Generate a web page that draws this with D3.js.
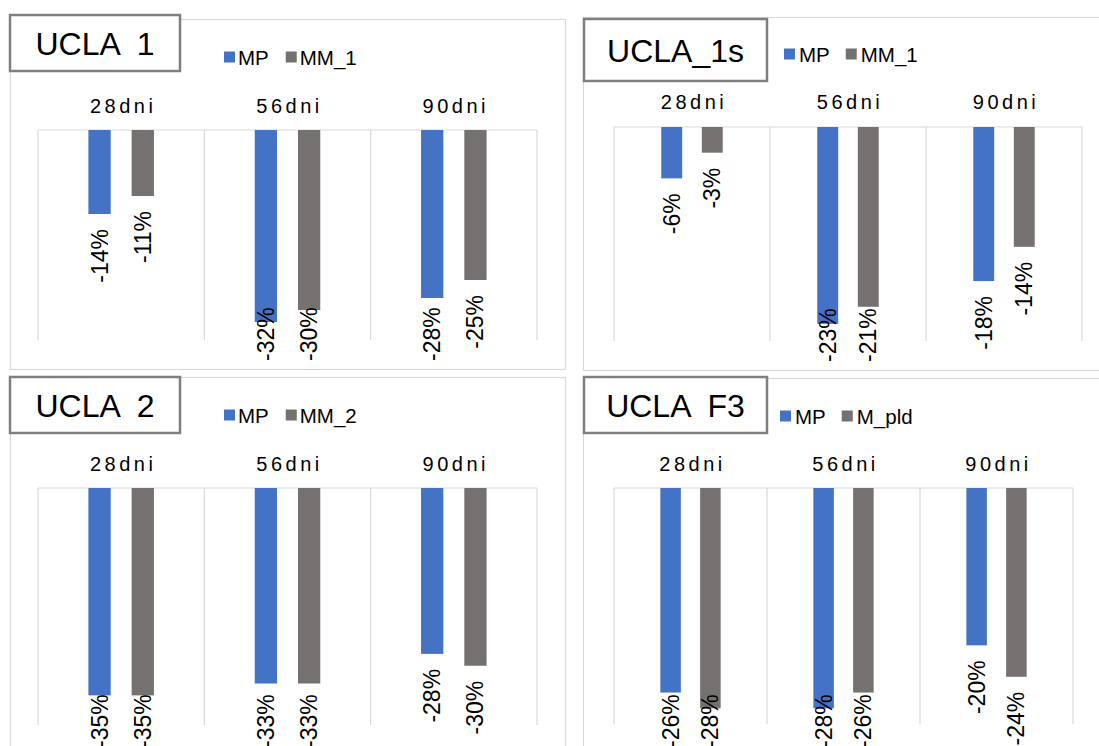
<!DOCTYPE html>
<html>
<head>
<meta charset="utf-8">
<script src="https://cdn.jsdelivr.net/npm/d3@7"></script>
<style>
  html, body { margin: 0; padding: 0; background: #ffffff; }
  svg { display: block; font-family: Arial, "Liberation Sans", sans-serif; }
</style>
</head>
<body>
<svg id="chart" width="1099" height="746"></svg>
<script>
// Categories shared by all four panels
const categories = ["28dni", "56dni", "90dni"];

// Panel titles and legend names
const titles = ["UCLA  1", "UCLA_1s", "UCLA  2", "UCLA  F3"];
const seriesNames = [["MP", "MM_1"], ["MP", "MM_1"], ["MP", "MM_2"], ["MP", "M_pld"]];

// Percentage changes per panel (first series = MP, second = comparison mix)
const mp_1 = [-14, -32, -28];
const mm_1 = [-11, -30, -25];
const mp_1s = [-6, -23, -18];
const mm_1s = [-3, -21, -14];
const mp_2 = [-35, -33, -28];
const mm_2 = [-35, -33, -30];
const mp_f3 = [-26, -28, -20];
const m_pld = [-28, -26, -24];

// Lower end of each panel's value axis (0 sits at the top)
const axisMin = [-35, -25, -40, -30];

const seriesValues = [[mp_1, mm_1], [mp_1s, mm_1s], [mp_2, mm_2], [mp_f3, m_pld]];
const colors = ["#4472C4", "#767171"];

// Geometry of each panel
const layout = [
  { frame: { x: 10.5, y: 19.5, w: 555, h: 350 }, box: { x: 10, y: 15, w: 170, h: 56 },
    legend: { x: 224, y: 57, off: 14, gap: 17 }, plot: { x: 38, y: 130, w: 499, h: 210 }, catY: 113, limit: 361 },
  { frame: { x: 583.5, y: 17.5, w: 620, h: 353 }, box: { x: 584, y: 19, w: 183, h: 62 },
    legend: { x: 784, y: 54, off: 15, gap: 16 }, plot: { x: 614, y: 127, w: 468, h: 214 }, catY: 109, limit: 362 },
  { frame: { x: 10.5, y: 377.5, w: 555, h: 380 }, box: { x: 10, y: 377, w: 170, h: 56 },
    legend: { x: 224, y: 415, off: 14, gap: 17 }, plot: { x: 38, y: 488, w: 499, h: 237 }, catY: 471, limit: 748 },
  { frame: { x: 583.5, y: 378.5, w: 620, h: 380 }, box: { x: 584, y: 377, w: 183, h: 56 },
    legend: { x: 780, y: 416, off: 15, gap: 16 }, plot: { x: 614, y: 488, w: 459, h: 236 }, catY: 471, limit: 748 }
];

const svg = d3.select("#chart");

layout.forEach((L, i) => {
  const g = svg.append("g");

  // outer chart frame
  g.append("rect")
    .attr("x", L.frame.x).attr("y", L.frame.y)
    .attr("width", L.frame.w).attr("height", L.frame.h)
    .attr("fill", "#ffffff").attr("stroke", "#d9d9d9").attr("stroke-width", 1.2);

  const x0 = d3.scaleBand().domain(categories).range([L.plot.x, L.plot.x + L.plot.w]).padding(0);
  const y = d3.scaleLinear().domain([0, axisMin[i]]).range([L.plot.y, L.plot.y + L.plot.h]);

  // gridlines: top edge plus category separators
  g.append("line")
    .attr("x1", L.plot.x).attr("x2", L.plot.x + L.plot.w)
    .attr("y1", y(0)).attr("y2", y(0))
    .attr("stroke", "#d9d9d9").attr("stroke-width", 1.2);
  const bounds = categories.map(c => x0(c)).concat([x0(categories[categories.length - 1]) + x0.bandwidth()]);
  g.selectAll("line.sep").data(bounds).enter().append("line")
    .attr("class", "sep")
    .attr("x1", d => d).attr("x2", d => d)
    .attr("y1", y(0)).attr("y2", y(axisMin[i]))
    .attr("stroke", "#d9d9d9").attr("stroke-width", 1.2);

  // category labels above the plot
  g.selectAll("text.cat").data(categories).enter().append("text")
    .attr("class", "cat")
    .attr("x", d => x0(d) + x0.bandwidth() / 2 + 2)
    .attr("y", L.catY)
    .attr("text-anchor", "middle")
    .attr("font-size", 20)
    .attr("letter-spacing", "3.5px")
    .attr("fill", "#000")
    .text(d => d);

  // bars and rotated value labels
  const step = x0.bandwidth();
  const bw = step * 0.134;
  const gap = step * 0.126;

  seriesValues[i].forEach((vals, s) => {
    const bars = categories.map((c, k) => ({ c, v: vals[k] }));
    const bx = d => x0(d.c) + step / 2 - (bw + gap / 2) + s * (bw + gap);
    g.selectAll("rect.s" + s).data(bars).enter().append("rect")
      .attr("class", "s" + s)
      .attr("x", bx)
      .attr("y", y(0))
      .attr("width", bw)
      .attr("height", d => y(d.v) - y(0))
      .attr("fill", colors[s]);

    g.selectAll("text.v" + s).data(bars).enter().append("text")
      .attr("class", "v" + s)
      .attr("font-size", 23)
      .attr("text-anchor", "start")
      .attr("dominant-baseline", "central")
      .attr("fill", "#000")
      .text(d => d3.format(".0%")(d.v / 100).replace("−", "-"))
      .each(function (d) {
        const len = this.getComputedTextLength();
        let top = y(d.v) + 15;
        if (top + len > L.limit) top = L.limit - len;
        const cx = bx(d) + bw / 2;
        d3.select(this).attr("transform", `translate(${cx},${top + len}) rotate(-90)`);
      });
  });

  // title box
  g.append("rect")
    .attr("x", L.box.x).attr("y", L.box.y)
    .attr("width", L.box.w).attr("height", L.box.h)
    .attr("fill", "#ffffff").attr("stroke", "#7f7f7f").attr("stroke-width", 2.5);
  g.append("text")
    .attr("x", L.box.x + L.box.w / 2)
    .attr("y", L.box.y + L.box.h / 2 + 11.5)
    .attr("text-anchor", "middle")
    .attr("font-size", 32)
    .attr("fill", "#000")
    .style("white-space", "pre")
    .attr("xml:space", "preserve")
    .text(titles[i]);

  // legend
  let lx = L.legend.x;
  seriesNames[i].forEach((name, s) => {
    g.append("rect")
      .attr("x", lx).attr("y", L.legend.y - 5.5)
      .attr("width", 11).attr("height", 11)
      .attr("fill", colors[s]);
    const t = g.append("text")
      .attr("x", lx + L.legend.off)
      .attr("y", L.legend.y)
      .attr("dominant-baseline", "central")
      .attr("font-size", 20.5)
      .attr("fill", "#000")
      .text(name);
    lx = lx + L.legend.off + t.node().getComputedTextLength() + L.legend.gap;
  });
});
</script>
</body>
</html>
